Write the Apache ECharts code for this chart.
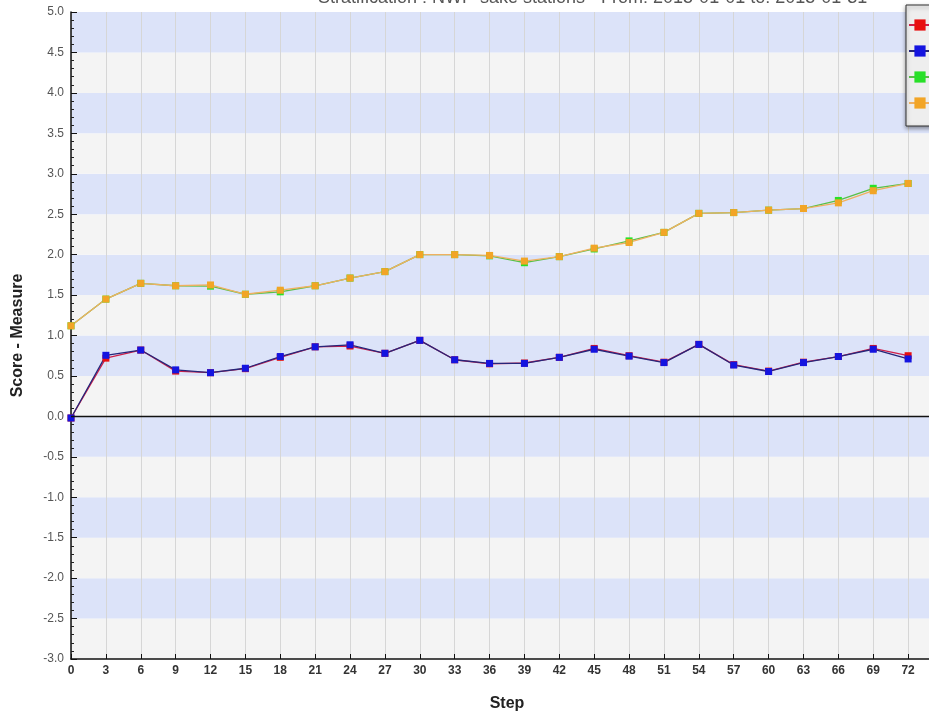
<!DOCTYPE html>
<html>
<head>
<meta charset="utf-8">
<script src="https://cdn.jsdelivr.net/npm/echarts@6/dist/echarts.min.js"></script>
<style>
  html, body { margin: 0; padding: 0; background: #fff; }
  #chart { width: 929px; height: 715px; }
</style>
</head>
<body>
<div id="chart"></div>
<script>
// steps (forecast range) and scores
const steps = [0, 3, 6, 9, 12, 15, 18, 21, 24, 27, 30, 33, 36, 39, 42, 45, 48, 51, 54, 57, 60, 63, 66, 69, 72];
const redVals = [-0.02, 0.72, 0.82, 0.56, 0.54, 0.59, 0.73, 0.86, 0.87, 0.78, 0.94, 0.70, 0.65, 0.66, 0.73, 0.84, 0.75, 0.67, 0.89, 0.64, 0.56, 0.67, 0.74, 0.84, 0.75];
const blueVals = [-0.02, 0.755, 0.82, 0.575, 0.54, 0.595, 0.74, 0.86, 0.885, 0.78, 0.94, 0.70, 0.655, 0.655, 0.73, 0.83, 0.745, 0.665, 0.89, 0.635, 0.555, 0.665, 0.74, 0.83, 0.71];
const greenVals = [1.12, 1.45, 1.645, 1.615, 1.61, 1.51, 1.54, 1.615, 1.71, 1.79, 2.00, 2.00, 1.985, 1.90, 1.975, 2.07, 2.17, 2.275, 2.51, 2.52, 2.55, 2.57, 2.67, 2.82, 2.88];
const orangeVals = [1.12, 1.45, 1.645, 1.615, 1.625, 1.51, 1.56, 1.615, 1.71, 1.79, 2.00, 2.00, 1.99, 1.92, 1.975, 2.08, 2.15, 2.275, 2.51, 2.52, 2.55, 2.57, 2.64, 2.79, 2.88];
const seriesNames = ['ME', 'ME ref', 'RMSE', 'RMSE ref'];

let chart = echarts.init(document.getElementById('chart'));

function pairs(vals) {
  return steps.map((s, i) => [s, vals[i]]);
}

function lineSeries(name, vals, markerColor, lineColor) {
  return {
    name: name,
    type: 'line',
    data: pairs(vals),
    symbol: 'rect',
    symbolSize: 7,
    itemStyle: { color: markerColor },
    lineStyle: { color: lineColor, width: 1.3 },
    emphasis: { disabled: true },
    animation: false
  };
}

let series = [
  lineSeries(seriesNames[0], redVals, '#e81010', '#d0204a'),
  lineSeries(seriesNames[1], blueVals, '#1414e0', '#26267a'),
  lineSeries(seriesNames[2], greenVals, '#28e028', '#58c048'),
  lineSeries(seriesNames[3], orangeVals, '#f2a526', '#f0b060')
];

// black zero line across the plot
series[0].markLine = {
  silent: true,
  symbol: 'none',
  label: { show: false },
  lineStyle: { color: '#111', width: 1.3, type: 'solid' },
  data: [{ yAxis: 0 }]
};

let option = {
  backgroundColor: '#ffffff',
  title: {
    text: 'Stratification : NWP-sake stations - From: 2015-01-01 to: 2015-01-31',
    left: 313,
    top: -16,
    textStyle: { fontSize: 18, fontWeight: 'normal', color: '#555', fontFamily: 'Liberation Sans' }
  },
  legend: {
    orient: 'vertical',
    left: 906,
    top: 5,
    padding: [14, 10, 17, 2],
    itemGap: 14,
    itemWidth: 22,
    itemHeight: 14,
    backgroundColor: '#eeeeee',
    borderColor: '#333',
    borderWidth: 1,
    shadowColor: 'rgba(0,0,0,0.4)',
    shadowBlur: 4,
    shadowOffsetY: 2,
    textStyle: { fontSize: 12, color: '#333' },
    data: seriesNames
  },
  grid: {
    left: 71,
    top: 12,
    bottom: 56,
    right: -14,
    outerBoundsMode: 'none'
  },
  xAxis: {
    type: 'value',
    min: 0,
    max: 75,
    interval: 3,
    name: 'Step',
    nameLocation: 'middle',
    nameGap: 37,
    nameTextStyle: { fontSize: 16, fontWeight: 'bold', color: '#222', fontFamily: 'Liberation Sans' },
    axisLine: { onZero: false, lineStyle: { color: '#111', width: 1.5 } },
    axisTick: { inside: true, length: 5, lineStyle: { color: '#111' } },
    axisLabel: {
      showMaxLabel: false,
      fontSize: 12,
      fontWeight: 'bold',
      color: '#333',
      margin: 6,
      fontFamily: 'Liberation Sans Narrow, Liberation Sans'
    },
    splitLine: { show: true, lineStyle: { color: '#d6d6d6', width: 1 } }
  },
  yAxis: {
    type: 'value',
    min: -3,
    max: 5,
    interval: 0.5,
    name: 'Score - Measure',
    nameLocation: 'middle',
    nameGap: 45,
    nameTextStyle: { fontSize: 16, fontWeight: 'bold', color: '#222', fontFamily: 'Liberation Sans' },
    axisLine: { show: true, lineStyle: { color: '#111', width: 1.5 } },
    axisTick: { inside: true, length: 6, lineStyle: { color: '#111' } },
    minorTick: { show: true, splitNumber: 5, length: 3, lineStyle: { color: '#222' } },
    axisLabel: {
      fontSize: 12,
      color: '#555',
      margin: 7,
      fontFamily: 'Liberation Sans',
      formatter: v => v.toFixed(1)
    },
    splitLine: { show: false },
    splitArea: { show: true, areaStyle: { color: ['#f4f4f4', '#dce3f9'] } }
  },
  series: series
};

chart.setOption(option);
</script>
</body>
</html>
